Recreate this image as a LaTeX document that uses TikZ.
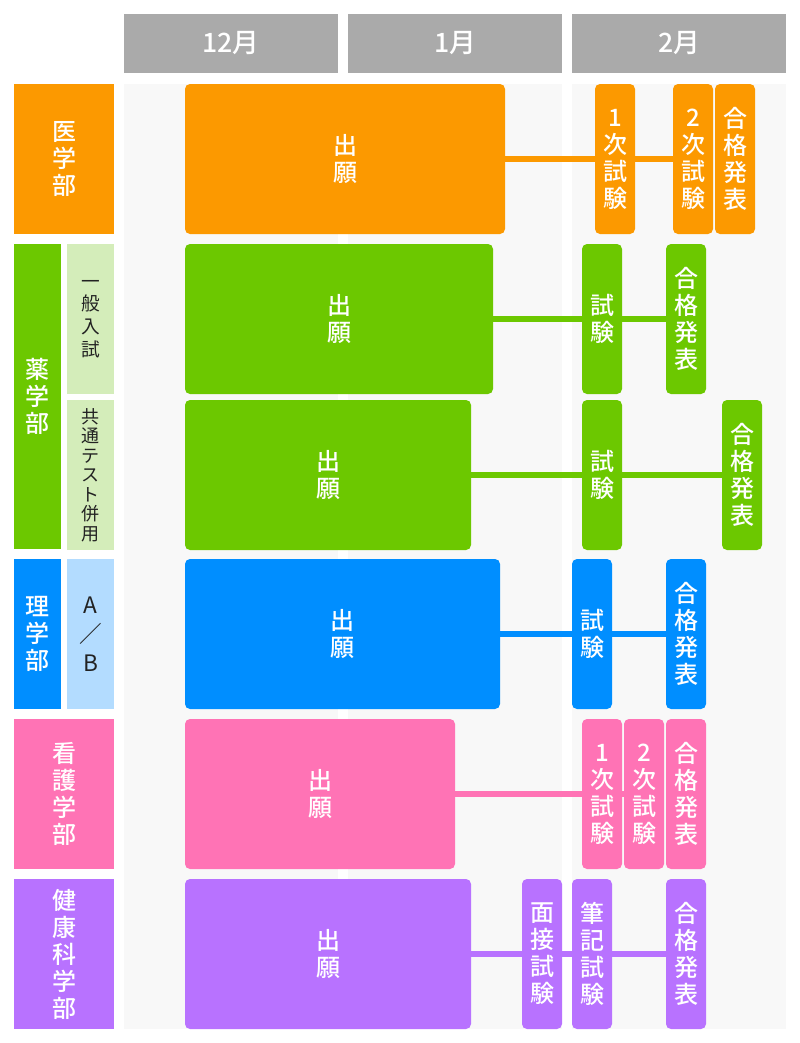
\documentclass[tikz,border=0pt]{standalone}
\usepackage{fontspec}
\setmainfont{Noto Sans CJK JP}
\newfontfamily\medfont{Noto Sans CJK JP Medium}
\usetikzlibrary{calc}
\definecolor{head}{HTML}{AAAAAA}
\definecolor{panel}{HTML}{F8F8F8}
\definecolor{ink}{HTML}{222222}
\definecolor{med}{HTML}{FC9900}
\definecolor{phar}{HTML}{6CC800}
\definecolor{pharlt}{HTML}{D4EDBA}
\definecolor{sci}{HTML}{008EFF}
\definecolor{scilt}{HTML}{B3DCFF}
\definecolor{nurs}{HTML}{FF73B5}
\definecolor{hlth}{HTML}{B872FF}

\begin{document}
\begin{tikzpicture}[
  x=0.75pt,y=-0.75pt,
  vtext/.style={font=\medfont\fontsize{18}{20.25}\selectfont,text=white,align=center,inner sep=0pt},
  month/.style={fill=head,text=white,minimum width=160.5pt,minimum height=44.25pt,
                inner sep=0pt,font=\medfont\fontsize{20}{22}\selectfont},
  dept/.style={vtext,minimum width=75pt,minimum height=112.5pt},
  sub/.style={minimum width=35.25pt,minimum height=112.5pt,inner sep=0pt,align=center,
              text=ink,font=\fontsize{14}{17}\selectfont},
  apply/.style={vtext,rounded corners=3.75pt,minimum height=112.5pt},
  slot/.style={vtext,rounded corners=3.75pt,minimum width=30pt,minimum height=112.5pt},
  link/.style={line width=4.5pt}
]
\useasboundingbox (0,0) rectangle (800,1043);

% Month columns
\foreach \cx in {124,348,572}
  \fill[panel] (\cx,84) rectangle ++(214,945);
\node[month] (dec) at (231,43.5) {12月};
\node[month] (jan) at (455,43.5) {1月};
\node[month] (feb) at (679,43.5) {2月};

% Department labels
\node[dept,fill=med] (med) at (64,159) {医\\学\\部};
\node[dept,fill=phar,minimum width=35.25pt,minimum height=228.75pt] (phar) at (37.5,396.5) {薬\\学\\部};
\node[sub,fill=pharlt] (gen) at (90.5,319) {一\\般\\入\\試};
\node[sub,fill=pharlt,font=\fontsize{13.5}{14.6}\selectfont] (cmn) at (90.5,475) {共\\通\\テ\\ス\\ト\\併\\用};
\node[dept,fill=sci,minimum width=35.25pt] (sci) at (37.5,634) {理\\学\\部};
\node[sub,fill=scilt,font=\fontsize{17}{21.75}\selectfont] (ab) at (90.5,634) {A\\／\\B};
\node[dept,fill=nurs] (nurs) at (64,794) {看\\護\\学\\部};
\node[dept,fill=hlth] (hlth) at (64,954) {健\\康\\科\\学\\部};

% Medicine
\node[apply,fill=med,minimum width=240pt] (medapp) at (345,159) {出\\願};
\node[slot,fill=med] (medone) at (615,159) {1\\次\\試\\験};
\node[slot,fill=med] (medtwo) at (693,159) {2\\次\\試\\験};
\node[slot,fill=med] (medres) at (735,159) {合\\格\\発\\表};
\draw[link,med] (medapp) -- (medone);
\draw[link,med] (medone) -- (medtwo);

% Pharmacy, general
\node[apply,fill=phar,minimum width=231pt] (genapp) at (339,319) {出\\願};
\node[slot,fill=phar] (genexam) at (602,319) {試\\験};
\node[slot,fill=phar] (genres) at (686,319) {合\\格\\発\\表};
\draw[link,phar] (genapp) -- (genexam);
\draw[link,phar] (genexam) -- (genres);

% Pharmacy, common test
\node[apply,fill=phar,minimum width=214.5pt] (cmnapp) at (328,475) {出\\願};
\node[slot,fill=phar] (cmnexam) at (602,475) {試\\験};
\node[slot,fill=phar] (cmnres) at (742,475) {合\\格\\発\\表};
\draw[link,phar] (cmnapp) -- (cmnexam);
\draw[link,phar] (cmnexam) -- (cmnres);

% Science
\node[apply,fill=sci,minimum width=236.25pt] (sciapp) at (342.5,634) {出\\願};
\node[slot,fill=sci] (sciexam) at (592,634) {試\\験};
\node[slot,fill=sci] (scires) at (686,634) {合\\格\\発\\表};
\draw[link,sci] (sciapp) -- (sciexam);
\draw[link,sci] (sciexam) -- (scires);

% Nursing
\node[apply,fill=nurs,minimum width=202.5pt] (nursapp) at (320,794) {出\\願};
\node[slot,fill=nurs] (nursone) at (602,794) {1\\次\\試\\験};
\node[slot,fill=nurs] (nurstwo) at (644,794) {2\\次\\試\\験};
\node[slot,fill=nurs] (nursres) at (686,794) {合\\格\\発\\表};
\draw[link,nurs] (nursapp) -- (nursone);
\draw[link,nurs] (nursone) -- (nurstwo);

% Health science
\node[apply,fill=hlth,minimum width=214.5pt] (hlthapp) at (328,954) {出\\願};
\node[slot,fill=hlth] (hlthint) at (542,954) {面\\接\\試\\験};
\node[slot,fill=hlth] (hlthwrt) at (592,954) {筆\\記\\試\\験};
\node[slot,fill=hlth] (hlthres) at (686,954) {合\\格\\発\\表};
\draw[link,hlth] (hlthapp) -- (hlthint);
\draw[link,hlth] (hlthint) -- (hlthwrt);
\draw[link,hlth] (hlthwrt) -- (hlthres);

\end{tikzpicture}
\end{document}
